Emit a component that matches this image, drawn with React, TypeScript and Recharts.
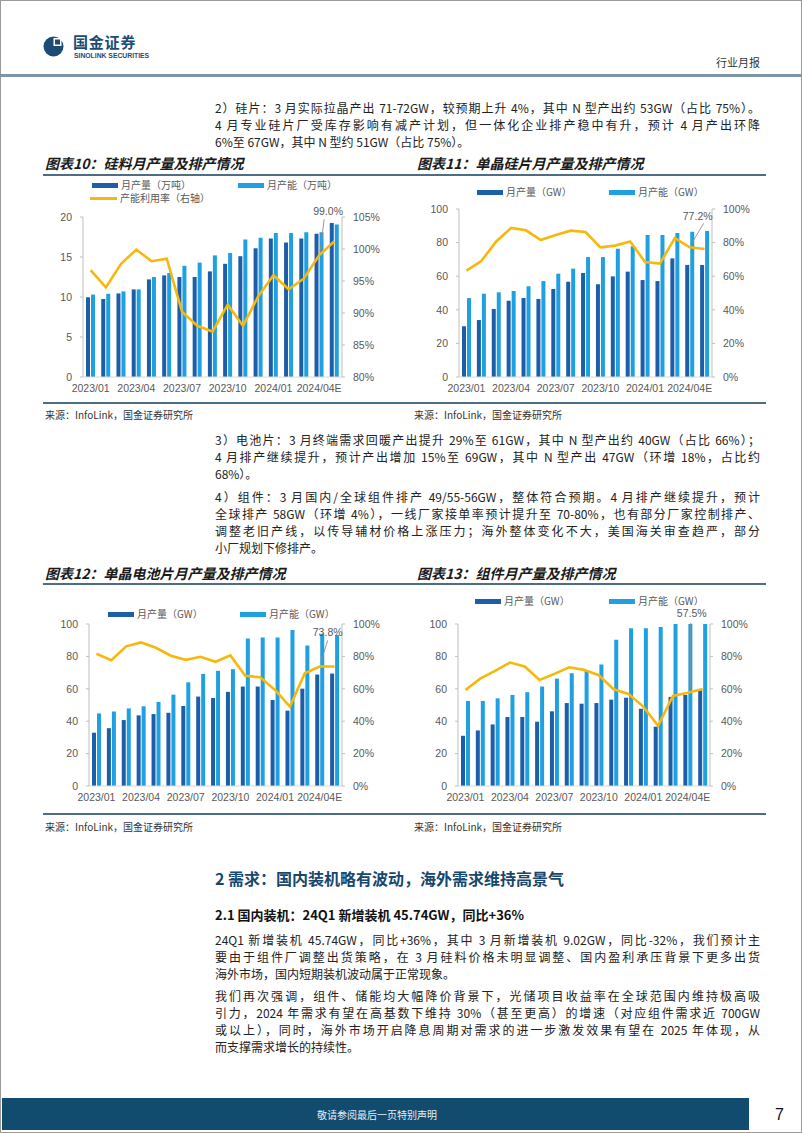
import React from 'react';
import { ComposedChart, Bar, Line, XAxis, YAxis } from 'recharts';

// ---------------- data ----------------
const months = [
  '2023/01', '2023/02', '2023/03', '2023/04', '2023/05', '2023/06', '2023/07', '2023/08', '2023/09',
  '2023/10', '2023/11', '2023/12', '2024/01', '2024/02', '2024/03', '2024/04E', '2024/05E',
];

// 图表10 硅料 (万吨, %)
const polyOutput = [9.96, 9.75, 10.45, 10.95, 12.2, 12.7, 12.5, 12.5, 13.2, 14.15, 15.1, 16.1, 17.3, 16.8, 17.3, 17.9, 19.25];
const polyCapacity = [10.3, 10.4, 10.7, 10.95, 12.5, 13.0, 13.9, 14.3, 15.2, 15.5, 17.2, 17.4, 18.0, 18.0, 18.1, 18.1, 19.05];
const polyUtil = [96.7, 94.0, 97.7, 99.9, 98.1, 98.5, 90.2, 88.0, 87.1, 91.3, 88.0, 92.6, 95.9, 93.7, 95.4, 99.0, 101.2];

// 图表11 单晶硅片 (GW, %)
const waferOutput = [30.2, 33.9, 40.5, 45.4, 47.0, 46.4, 52.4, 56.7, 61.9, 55.2, 59.9, 62.7, 57.7, 57.1, 70.6, 66.7, 66.7];
const waferCapacity = [47.0, 49.6, 50.4, 51.2, 54.0, 57.1, 61.5, 64.5, 71.4, 71.4, 76.4, 77.8, 84.5, 84.5, 85.7, 86.5, 86.9];
const waferUtil = [63.3, 69.0, 80.7, 88.7, 87.3, 81.5, 84.5, 87.1, 86.3, 77.2, 78.2, 80.6, 68.5, 67.5, 82.7, 77.2, 76.2];

// 图表12 单晶电池片 (GW, %)
const cellOutput = [32.9, 35.7, 40.7, 43.6, 44.4, 45.2, 49.4, 55.2, 54.3, 58.1, 61.4, 61.4, 53.1, 46.5, 60.1, 68.8, 69.4];
const cellCapacity = [44.8, 46.0, 47.9, 49.2, 51.9, 56.4, 64.0, 69.2, 71.1, 72.1, 91.1, 91.7, 91.7, 96.3, 86.8, 94.0, 93.2];
const cellUtil = [81.6, 77.7, 86.2, 88.6, 85.3, 80.4, 77.9, 79.8, 76.7, 80.6, 68.0, 67.1, 59.3, 49.0, 69.6, 73.8, 73.8];

// 图表13 组件 (GW, %)
const moduleOutput = [31.0, 34.3, 38.0, 42.6, 42.6, 39.7, 46.1, 51.2, 50.8, 51.2, 53.3, 54.5, 47.7, 36.6, 55.0, 56.2, 59.1];
const moduleCapacity = [52.5, 52.5, 54.1, 56.2, 57.9, 61.4, 66.3, 69.6, 71.1, 75.0, 90.3, 97.3, 97.3, 98.1, 100.6, 101.5, 102.0];
const moduleUtil = [59.3, 66.3, 71.1, 76.2, 73.8, 65.5, 69.2, 73.3, 71.7, 68.4, 59.7, 56.8, 49.0, 37.2, 55.6, 57.5, 59.9];

const polyLeftTicks = [0, 5, 10, 15, 20];
const polyRightTicks = [80, 85, 90, 95, 100, 105];
const gwTicks = [0, 20, 40, 60, 80, 100];
const pctTicks = [0, 20, 40, 60, 80, 100];

const polyNames = ['月产量（万吨）', '月产能（万吨）', '产能利用率（右轴）'];
const gwNames = ['月产量（GW）', '月产能（GW）'];

const ANNOT_INDEX = 15;

// ---------------- styles ----------------
const DARK = '#1d5ea8';
const LIGHT = '#1fa0e0';
const GOLD = '#f6b80c';
const AXIS = '#bfbfbf';
const TXT = '#595959';
const CHART_FONT = '"Liberation Sans", Arial, "Noto Sans CJK SC", sans-serif';
const CJK = '"Noto Sans CJK SC", "Noto Sans", sans-serif';

const makeRows = (out: number[], cap: number[], util: number[]) =>
  months.map((m, i) => ({ month: m, output: out[i], capacity: cap[i], util: util[i] }));

type LegendItem = { name: string; kind: 'dark' | 'light' | 'line'; x: number; y: number };

function annotDot(util: number[], tx: number, ty: number, l1: [number, number], l2: [number, number]) {
  return (p: any) => {
    const k = `dot-${p.index}`;
    if (p.index !== ANNOT_INDEX || p.cx == null) return <g key={k} />;
    const { cx, cy } = p;
    return (
      <g key={k}>
        <line x1={cx + l1[0]} y1={cy + l1[1]} x2={cx + l2[0]} y2={cy + l2[1]} stroke="#8c8c8c" strokeWidth={0.9} />
        <text x={cx + tx} y={cy + ty} textAnchor="middle" fontSize={10.5} fill={TXT} fontFamily={CHART_FONT}>
          {`${util[ANNOT_INDEX].toFixed(1)}%`}
        </text>
      </g>
    );
  };
}

type PanelProps = {
  left: number; top: number; width: number; height: number;
  marginTop: number; yLeftWidth: number; yRightWidth: number;
  rows: any[]; leftDomain: [number, number]; leftTicks: number[];
  rightDomain: [number, number]; rightTicks: number[];
  names: string[]; legend: LegendItem[]; dot: any;
};

function Panel(p: PanelProps) {
  const tickStyle = { fontSize: 10.5, fill: TXT, fontFamily: CHART_FONT };
  return (
    <div style={{ position: 'absolute', left: p.left, top: p.top, width: p.width, height: p.height }}>
      <ComposedChart
        width={p.width}
        height={p.height}
        data={p.rows}
        margin={{ top: p.marginTop, right: 0, bottom: 0, left: 0 }}
        barSize={4}
        barGap={1}
      >
        <XAxis
          dataKey="month"
          interval={2}
          tickLine={false}
          axisLine={{ stroke: '#d9d9d9' }}
          tick={tickStyle}
        />
        <YAxis
          yAxisId="l"
          orientation="left"
          width={p.yLeftWidth}
          domain={p.leftDomain}
          ticks={p.leftTicks}
          interval={0}
          allowDataOverflow
          axisLine={{ stroke: AXIS }}
          tickLine={{ stroke: AXIS }}
          tickSize={3}
          tickMargin={8}
          tick={tickStyle}
        />
        <YAxis
          yAxisId="r"
          orientation="right"
          width={p.yRightWidth}
          domain={p.rightDomain}
          ticks={p.rightTicks}
          interval={0}
          tickFormatter={(v: number) => `${v}%`}
          axisLine={{ stroke: AXIS }}
          tickLine={{ stroke: AXIS }}
          tickSize={3}
          tickMargin={8}
          tick={tickStyle}
        />
        <Bar yAxisId="l" dataKey="output" name={p.names[0]} fill={DARK} isAnimationActive={false} />
        <Bar yAxisId="l" dataKey="capacity" name={p.names[1]} fill={LIGHT} isAnimationActive={false} />
        <Line
          yAxisId="r"
          type="linear"
          dataKey="util"
          name={p.names[2] || '产能利用率'}
          stroke={GOLD}
          strokeWidth={2.6}
          dot={p.dot}
          activeDot={false}
          isAnimationActive={false}
        />
      </ComposedChart>
      {p.legend.map((it, i) => (
        <div key={i} style={{ position: 'absolute', left: it.x, top: it.y - 5, height: 10, display: 'flex', alignItems: 'center' }}>
          {it.kind === 'line' ? (
            <div style={{ width: 27, height: 3, background: GOLD, marginRight: 3 }} />
          ) : (
            <div style={{ width: 26, height: 5, background: it.kind === 'dark' ? DARK : LIGHT, marginRight: 3 }} />
          )}
          <span style={{ fontFamily: CJK, fontSize: 10, color: TXT, lineHeight: '10px', whiteSpace: 'nowrap' }}>{it.name}</span>
        </div>
      ))}
    </div>
  );
}

// ---------------- page text ----------------
const BODY_X = 215;
const BODY_W = 545;

function TL({ y, text, last }: { y: number; text: string; last?: boolean }) {
  return (
    <div
      style={{
        position: 'absolute', left: BODY_X, top: y - 8, width: BODY_W, height: 16, lineHeight: '16px',
        fontFamily: CJK, fontSize: 12, color: '#222', textAlign: 'justify',
        textAlignLast: last ? 'left' : 'justify',
      } as any}
    >
      {text}
    </div>
  );
}

function Abs({ x, y, children, style }: { x: number; y: number; children: any; style?: any }) {
  return (
    <div style={{ position: 'absolute', left: x, top: y, whiteSpace: 'nowrap', ...style }}>{children}</div>
  );
}

const titleStyle = { fontFamily: CJK, fontSize: 14, fontWeight: 700, fontStyle: 'italic', color: '#1a1a1a', lineHeight: '18px' };
const srcStyle = { fontFamily: CJK, fontSize: 10, color: '#333', lineHeight: '14px' };

export default function App() {
  const polyRows = makeRows(polyOutput, polyCapacity, polyUtil);
  const waferRows = makeRows(waferOutput, waferCapacity, waferUtil);
  const cellRows = makeRows(cellOutput, cellCapacity, cellUtil);
  const moduleRows = makeRows(moduleOutput, moduleCapacity, moduleUtil);

  return (
    <div style={{ position: 'absolute', left: 0, top: 0, width: 802, height: 1133, background: '#fff', overflow: 'hidden' }}>
      {/* page frame */}
      <div style={{ position: 'absolute', left: 0, top: 0, width: 800, height: 1131, border: '1px solid #9a9a9a' }} />

      {/* header */}
      <svg style={{ position: 'absolute', left: 43, top: 35 }} width={24} height={26}>
        <circle cx={10.5} cy={11.5} r={10} fill="#1c4c74" />
        <rect x={10.5} y={3} width={8} height={8} fill="#fff" />
        <rect x={12} y={4.5} width={5} height={5} fill="#1c4c74" />
      </svg>
      <Abs x={73} y={34} style={{ fontFamily: CJK, fontSize: 15, fontWeight: 700, color: '#1c4c74', lineHeight: '16px', letterSpacing: 0.8 }}>国金证券</Abs>
      <Abs x={74} y={52} style={{ fontFamily: '"Liberation Sans", Arial, sans-serif', fontSize: 6.8, fontWeight: 700, color: '#1c4c74', lineHeight: '7px' }}>SINOLINK SECURITIES</Abs>
      <Abs x={716} y={55} style={{ fontFamily: CJK, fontSize: 11, color: '#333', lineHeight: '14px' }}>行业月报</Abs>
      <div style={{ position: 'absolute', left: 0, top: 74, width: 802, height: 3, background: '#7d95a6' }} />

      {/* paragraph 2) */}
      <TL y={108} text="2）硅片：3 月实际拉晶产出 71-72GW，较预期上升 4%，其中 N 型产出约 53GW（占比 75%）。" />
      <TL y={125} text="4 月专业硅片厂受库存影响有减产计划，但一体化企业排产稳中有升，预计 4 月产出环降" />
      <TL y={142} text="6%至 67GW，其中 N 型约 51GW（占比 75%）。" last />

      {/* chart titles row 1 */}
      <Abs x={45} y={154} style={titleStyle}>图表10：硅料月产量及排产情况</Abs>
      <Abs x={417} y={154} style={titleStyle}>图表11：单晶硅片月产量及排产情况</Abs>
      <div style={{ position: 'absolute', left: 43, top: 174, width: 723, height: 2, background: '#4d6d84' }} />

      <Panel
        left={40} top={176} width={360} height={231} marginTop={41} yLeftWidth={43} yRightWidth={58}
        rows={polyRows} leftDomain={[0, 20]} leftTicks={polyLeftTicks} rightDomain={[80, 105]} rightTicks={polyRightTicks}
        names={polyNames}
        legend={[
          { name: polyNames[0], kind: 'dark', x: 52, y: 9 },
          { name: polyNames[1], kind: 'light', x: 198, y: 9 },
          { name: polyNames[2], kind: 'line', x: 50, y: 22 },
        ]}
        dot={annotDot(polyUtil, 9, -40, [5, -36], [1, -4])}
      />
      <Panel
        left={410} top={176} width={360} height={231} marginTop={33} yLeftWidth={49} yRightWidth={58}
        rows={waferRows} leftDomain={[0, 100]} leftTicks={gwTicks} rightDomain={[0, 100]} rightTicks={pctTicks}
        names={gwNames}
        legend={[
          { name: gwNames[0], kind: 'dark', x: 67, y: 16 },
          { name: gwNames[1], kind: 'light', x: 199, y: 16 },
        ]}
        dot={annotDot(waferUtil, 8, -27, [14, -24], [2, -4])}
      />

      <div style={{ position: 'absolute', left: 43, top: 402, width: 723, height: 2, background: '#4d6d84' }} />
      <Abs x={45} y={408} style={srcStyle}>来源：InfoLink，国金证券研究所</Abs>
      <Abs x={414} y={408} style={srcStyle}>来源：InfoLink，国金证券研究所</Abs>

      {/* paragraphs 3) 4) */}
      <TL y={440} text="3）电池片：3 月终端需求回暖产出提升 29%至 61GW，其中 N 型产出约 40GW（占比 66%）；" />
      <TL y={457} text="4 月排产继续提升，预计产出增加 15%至 69GW，其中 N 型产出 47GW（环增 18%，占比约" />
      <TL y={474} text="68%）。" last />
      <TL y={497} text="4）组件：3 月国内/全球组件排产 49/55-56GW，整体符合预期。4 月排产继续提升，预计" />
      <TL y={514} text="全球排产 58GW（环增 4%），一线厂家接单率预计提升至 70-80%，也有部分厂家控制排产、" />
      <TL y={531} text="调整老旧产线，以传导辅材价格上涨压力；海外整体变化不大，美国海关审查趋严，部分" />
      <TL y={548} text="小厂规划下修排产。" last />

      {/* chart titles row 2 */}
      <Abs x={45} y={564} style={titleStyle}>图表12：单晶电池片月产量及排产情况</Abs>
      <Abs x={417} y={564} style={titleStyle}>图表13：组件月产量及排产情况</Abs>
      <div style={{ position: 'absolute', left: 43, top: 583, width: 723, height: 2, background: '#4d6d84' }} />

      <Panel
        left={40} top={590} width={360} height={226} marginTop={34} yLeftWidth={49} yRightWidth={58}
        rows={cellRows} leftDomain={[0, 100]} leftTicks={gwTicks} rightDomain={[0, 100]} rightTicks={pctTicks}
        names={gwNames}
        legend={[
          { name: gwNames[0], kind: 'dark', x: 68, y: 24 },
          { name: gwNames[1], kind: 'light', x: 200, y: 24 },
        ]}
        dot={annotDot(cellUtil, 8, -30, [8, -26], [1, -4])}
      />
      <Panel
        left={410} top={590} width={360} height={226} marginTop={34} yLeftWidth={48} yRightWidth={60}
        rows={moduleRows} leftDomain={[0, 100]} leftTicks={gwTicks} rightDomain={[0, 100]} rightTicks={pctTicks}
        names={gwNames}
        legend={[
          { name: gwNames[0], kind: 'dark', x: 65, y: 11 },
          { name: gwNames[1], kind: 'light', x: 199, y: 11 },
        ]}
        dot={annotDot(moduleUtil, 4, -76, [3, -70], [3, -4])}
      />

      <div style={{ position: 'absolute', left: 43, top: 813, width: 723, height: 2, background: '#4d6d84' }} />
      <Abs x={45} y={820} style={srcStyle}>来源：InfoLink，国金证券研究所</Abs>
      <Abs x={414} y={820} style={srcStyle}>来源：InfoLink，国金证券研究所</Abs>

      {/* section 2 */}
      <Abs x={215} y={867} style={{ fontFamily: CJK, fontSize: 16, fontWeight: 700, color: '#17466e', lineHeight: '22px' }}>
        2 需求：国内装机略有波动，海外需求维持高景气
      </Abs>
      <Abs x={215} y={906} style={{ fontFamily: CJK, fontSize: 13, fontWeight: 700, color: '#111', lineHeight: '18px' }}>
        2.1 国内装机：24Q1 新增装机 45.74GW，同比+36%
      </Abs>

      <TL y={940} text="24Q1 新增装机 45.74GW，同比+36%，其中 3 月新增装机 9.02GW，同比-32%，我们预计主" />
      <TL y={957} text="要由于组件厂调整出货策略，在 3 月硅料价格未明显调整、国内盈利承压背景下更多出货" />
      <TL y={974} text="海外市场，国内短期装机波动属于正常现象。" last />
      <TL y={996} text="我们再次强调，组件、储能均大幅降价背景下，光储项目收益率在全球范围内维持极高吸" />
      <TL y={1013} text="引力，2024 年需求有望在高基数下维持 30%（甚至更高）的增速（对应组件需求近 700GW" />
      <TL y={1030} text="或以上），同时，海外市场开启降息周期对需求的进一步激发效果有望在 2025 年体现，从" />
      <TL y={1047} text="而支撑需求增长的持续性。" last />

      {/* footer */}
      <div style={{ position: 'absolute', left: 2, top: 1098, width: 747, height: 32, background: '#114b6e' }} />
      <Abs x={317} y={1108} style={{ fontFamily: CJK, fontSize: 10, color: '#e8eef3', lineHeight: '14px' }}>敬请参阅最后一页特别声明</Abs>
      <Abs x={775} y={1105} style={{ fontFamily: '"Liberation Sans", Arial, sans-serif', fontSize: 16, color: '#111', lineHeight: '20px' }}>7</Abs>
    </div>
  );
}
